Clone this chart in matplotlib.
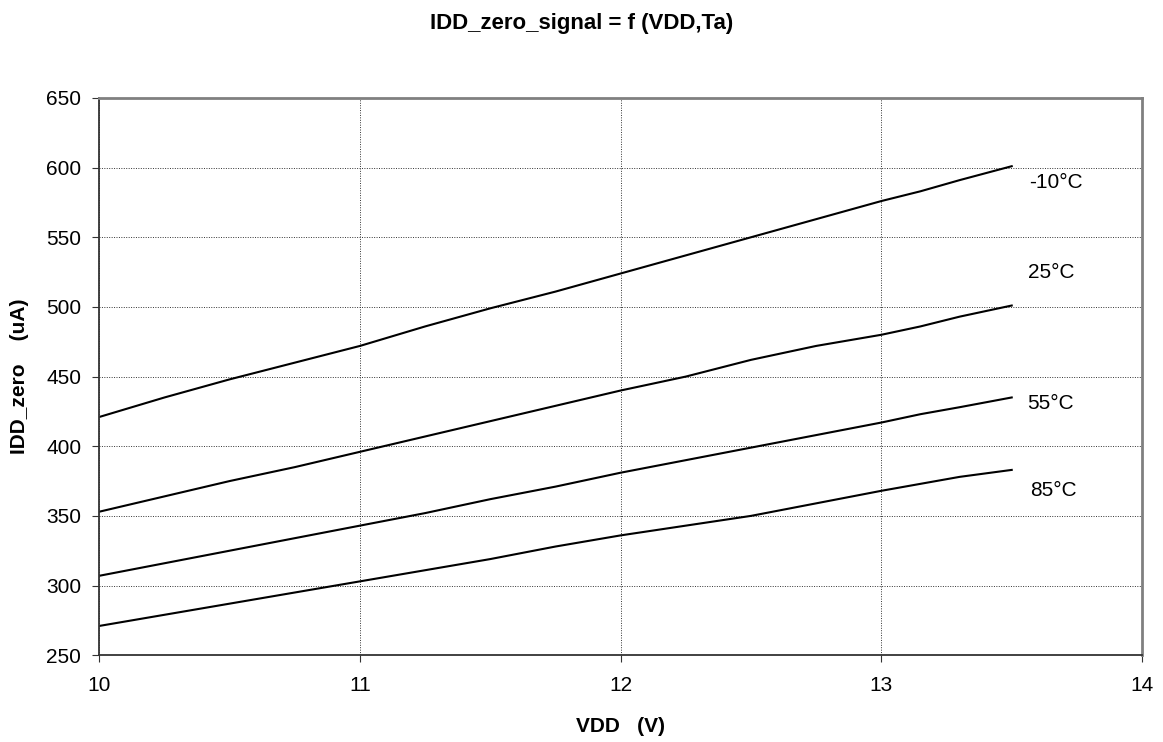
import matplotlib.pyplot as plt

plt.rcParams['font.family'] = ['Liberation Sans', 'DejaVu Sans']

# VDD (V) and IDD_zero (uA)
vdd = [10, 10.25, 10.5, 10.75, 11, 11.25, 11.5, 11.75, 12, 12.25, 12.5, 12.75, 13, 13.15, 13.3, 13.5]
idd_m10 = [421, 435, 448, 460, 472, 486, 499, 511, 524, 537, 550, 563, 576, 583, 591, 601]
idd_25 = [353, 364, 375, 385, 396, 407, 418, 429, 440, 450, 462, 472, 480, 486, 493, 501]
idd_55 = [307, 316, 325, 334, 343, 352, 362, 371, 381, 390, 399, 408, 417, 423, 428, 435]
idd_85 = [271, 279, 287, 295, 303, 311, 319, 328, 336, 343, 350, 359, 368, 373, 378, 383]

series = [idd_m10, idd_25, idd_55, idd_85]
labels = ['-10°C', '25°C', '55°C', '85°C']
label_x = [13.67, 13.65, 13.65, 13.66]
label_y = [589, 525, 431, 368]

fig = plt.figure(figsize=(11.63, 7.42), dpi=100)
ax = fig.add_axes([0.0854, 0.117, 0.8966, 0.751])

for vals in series:
    ax.plot(vdd, vals, color='black', lw=1.5)

for txt, x, y in zip(labels, label_x, label_y):
    ax.text(x, y, txt, ha='center', va='center', fontsize=15)

ax.set_xlim(10, 14)
ax.set_ylim(250, 650)
ax.set_xticks([10, 11, 12, 13, 14])
ax.set_yticks(range(250, 651, 50))
ax.grid(True, color='#333333', linestyle=(0, (1, 1.5)), lw=0.7)
ax.tick_params(labelsize=15, direction='out', length=5, color='#333333')
ax.tick_params(axis='x', pad=10)
ax.tick_params(axis='y', pad=8)

for s in ['left', 'bottom']:
    ax.spines[s].set_color('#333333')
    ax.spines[s].set_linewidth(1.3)
for s in ['top', 'right']:
    ax.spines[s].set_color('#808080')
    ax.spines[s].set_linewidth(2)

ax.set_xlabel('VDD   (V)', fontsize=15, fontweight='bold', labelpad=16)
ax.set_ylabel('IDD_zero    (uA)', fontsize=15, fontweight='bold', labelpad=12)
fig.suptitle('IDD_zero_signal = f (VDD,Ta)', fontsize=16, fontweight='bold', y=0.982)

fig.savefig('out.png', dpi=100)
